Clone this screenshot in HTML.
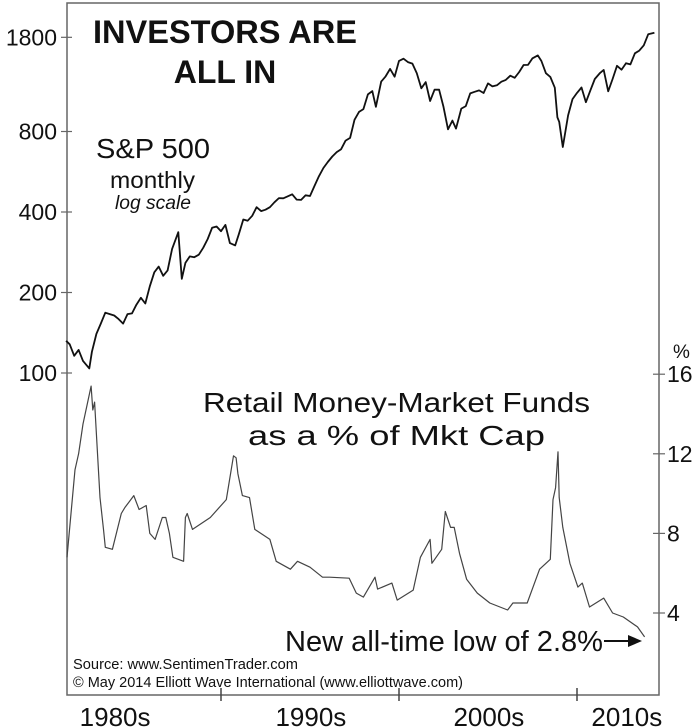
<!DOCTYPE html>
<html><head><meta charset="utf-8"><style>
html,body{margin:0;padding:0;background:#fff}
svg{display:block}
text{font-family:"Liberation Sans",Arial,sans-serif;fill:#111}
</style></head><body>
<svg width="700" height="728" viewBox="0 0 700 728">
<rect x="67" y="3" width="592" height="692" fill="none" stroke="#666" stroke-width="1.5"/>
<g id="axes"></g>
<path id="spx" fill="none" stroke="#111" stroke-width="1.8" stroke-linejoin="round"/>
<path id="mmf" fill="none" stroke="#444" stroke-width="1.2" stroke-linejoin="round"/>
<text x="93" y="43" font-size="32" font-weight="bold" textLength="264" lengthAdjust="spacingAndGlyphs">INVESTORS ARE</text>
<text x="225" y="83" text-anchor="middle" font-size="32" font-weight="bold">ALL IN</text>
<text x="96" y="158" font-size="28" textLength="114" lengthAdjust="spacingAndGlyphs">S&amp;P 500</text>
<text x="110" y="188" font-size="23" textLength="85" lengthAdjust="spacingAndGlyphs">monthly</text>
<text x="115" y="209" font-size="19" font-style="italic" textLength="76" lengthAdjust="spacingAndGlyphs">log scale</text>
<text x="203" y="412" font-size="28" textLength="387" lengthAdjust="spacingAndGlyphs">Retail Money-Market Funds</text>
<text x="248" y="445" font-size="28" textLength="297" lengthAdjust="spacingAndGlyphs">as a % of Mkt Cap</text>
<text x="285" y="651" font-size="29" textLength="318" lengthAdjust="spacingAndGlyphs">New all-time low of 2.8%</text>
<g><line x1="604" y1="641" x2="630" y2="641" stroke="#111" stroke-width="2"/><polygon points="628,635 642,641 628,647" fill="#111"/></g>
<text x="73" y="669" font-size="14.5" textLength="225" lengthAdjust="spacingAndGlyphs">Source: www.SentimenTrader.com</text>
<text x="73" y="687" font-size="14.5" textLength="390" lengthAdjust="spacingAndGlyphs">© May 2014 Elliott Wave International (www.elliottwave.com)</text>
<text x="673" y="358" font-size="19">%</text>
</svg>
<script>
const spxYears=[1981.3,1981.5,1981.75,1982.0,1982.25,1982.6,1982.75,1983.0,1983.25,1983.5,1983.75,1984.0,1984.25,1984.5,1984.75,1985.0,1985.25,1985.5,1985.75,1986.0,1986.25,1986.5,1986.75,1987.0,1987.25,1987.6,1987.8,1988.0,1988.25,1988.5,1988.75,1989.0,1989.25,1989.5,1989.75,1990.0,1990.25,1990.5,1990.8,1991.0,1991.25,1991.5,1991.75,1992.0,1992.25,1992.5,1992.75,1993.0,1993.25,1993.5,1993.75,1994.0,1994.25,1994.5,1994.75,1995.0,1995.25,1995.5,1995.75,1996.0,1996.25,1996.5,1996.75,1997.0,1997.25,1997.5,1997.75,1998.0,1998.25,1998.5,1998.7,1999.0,1999.25,1999.5,1999.75,2000.0,2000.25,2000.5,2000.75,2001.0,2001.25,2001.5,2001.75,2002.0,2002.25,2002.5,2002.75,2003.0,2003.2,2003.5,2003.75,2004.0,2004.25,2004.5,2004.75,2005.0,2005.25,2005.5,2005.75,2006.0,2006.25,2006.5,2006.75,2007.0,2007.25,2007.5,2007.8,2008.0,2008.25,2008.5,2008.75,2008.9,2009.0,2009.2,2009.5,2009.75,2010.0,2010.25,2010.5,2010.75,2011.0,2011.3,2011.5,2011.75,2012.0,2012.25,2012.5,2012.75,2013.0,2013.25,2013.5,2013.75,2014.0,2014.35];
const spxValues=[132,128,116,122,111,104,120,140,153,168,166,164,159,153,166,167,180,191,182,211,238,250,231,242,291,336,225,258,273,271,277,294,317,349,353,339,358,306,300,330,375,371,387,417,403,408,417,435,451,450,458,466,445,444,462,459,500,544,584,615,645,670,687,740,757,885,947,970,1101,1133,990,1229,1286,1372,1282,1469,1498,1454,1436,1320,1160,1224,1040,1148,1147,989,815,879,820,974,996,1111,1126,1140,1114,1211,1180,1191,1228,1248,1294,1270,1335,1418,1420,1503,1540,1468,1322,1280,1166,903,870,700,919,1057,1115,1169,1030,1141,1257,1325,1360,1131,1257,1408,1362,1440,1426,1569,1606,1681,1848,1872];
const mmfYears=[1981.35,1981.8,1982.0,1982.25,1982.7,1982.8,1982.9,1983.2,1983.4,1983.5,1983.9,1984.4,1984.6,1985.1,1985.4,1985.8,1986.0,1986.3,1986.7,1986.9,1987.1,1987.3,1987.9,1988.0,1988.1,1988.4,1989.4,1990.3,1990.7,1990.85,1990.95,1991.2,1991.6,1991.9,1992.75,1993.1,1993.9,1994.3,1995.0,1995.7,1996.1,1997.2,1997.6,1998.0,1998.65,1998.8,1999.6,1999.9,2000.8,2001.2,2001.75,2001.85,2002.4,2002.6,2002.9,2003.1,2003.4,2003.8,2004.4,2005.1,2006.1,2006.4,2007.2,2007.9,2008.5,2008.65,2008.8,2008.93,2009.0,2009.2,2009.6,2010.05,2010.3,2010.7,2011.5,2012.0,2012.6,2013.4,2013.8];
const mmfValues=[6.8,11.2,12.0,13.5,15.4,14.2,14.6,9.8,8.2,7.3,7.2,9.0,9.3,9.9,9.2,9.4,8.0,7.7,8.8,8.8,8.0,6.8,6.6,8.8,9.0,8.2,8.8,9.7,11.9,11.8,11.0,9.9,9.8,8.2,7.7,6.6,6.2,6.6,6.3,5.8,5.8,5.75,5.0,4.8,5.8,5.2,5.5,4.65,5.15,6.8,7.7,6.5,7.2,9.1,8.3,8.3,7.0,5.7,5.0,4.5,4.15,4.5,4.5,6.2,6.7,9.7,10.3,12.1,9.8,8.3,6.5,5.3,5.5,4.3,4.75,4.0,3.8,3.3,2.8];
const leftTicks=[100,200,400,800,1800];
const rightTicks=[4,8,12,16];
const decadeTicks=[1990,2000,2010];
const decadeLabels=["1980s","1990s","2000s","2010s"];
const decadeLabelYears=[1984.05,1995.05,2005.05,2012.8];

const NS="http://www.w3.org/2000/svg";
const X=y=>221+(y-1990)*17.8;
const YL=v=>373-Math.log2(v/100)*80.5;
const YR=v=>613-(v-4)*19.9;
function mk(tag,attrs,parent){const e=document.createElementNS(NS,tag);for(const k in attrs)e.setAttribute(k,attrs[k]);parent.appendChild(e);return e;}
const svg=document.querySelector('svg');
const axes=document.getElementById('axes');
leftTicks.forEach(v=>{
  const y=YL(v);
  const t=mk('line',{x1:61,x2:72,y1:y,y2:y,stroke:'#666','stroke-width':1.2},axes);
  
  
  const l=mk('text',{x:57,y:y+8,'text-anchor':'end','font-size':23},svg);
  l.textContent=v;
  
  
});
rightTicks.forEach(v=>{
  const y=YR(v);
  const t=mk('line',{x1:653,x2:665,y1:y,y2:y,stroke:'#666','stroke-width':1.2},axes);
  
  
  const l=mk('text',{x:667,y:y+8,'font-size':23},svg);
  l.textContent=v;
  
  
});
decadeTicks.forEach(d=>{
  const x=X(d);
  const t=mk('line',{x1:x,x2:x,y1:688,y2:701,stroke:'#444','stroke-width':1.5},axes);
  
  
});
decadeLabels.forEach((s,i)=>{
  const l=mk('text',{x:X(decadeLabelYears[i]),y:726,'text-anchor':'middle','font-size':26},svg);
  l.textContent=s;
  
  
});
document.getElementById('spx').setAttribute('d',spxYears.map((y,i)=>(i?'L':'M')+X(y).toFixed(1)+','+YL(spxValues[i]).toFixed(1)).join(''));
document.getElementById('mmf').setAttribute('d',mmfYears.map((y,i)=>(i?'L':'M')+X(y).toFixed(1)+','+YR(mmfValues[i]).toFixed(1)).join(''));
</script>
</body></html>
